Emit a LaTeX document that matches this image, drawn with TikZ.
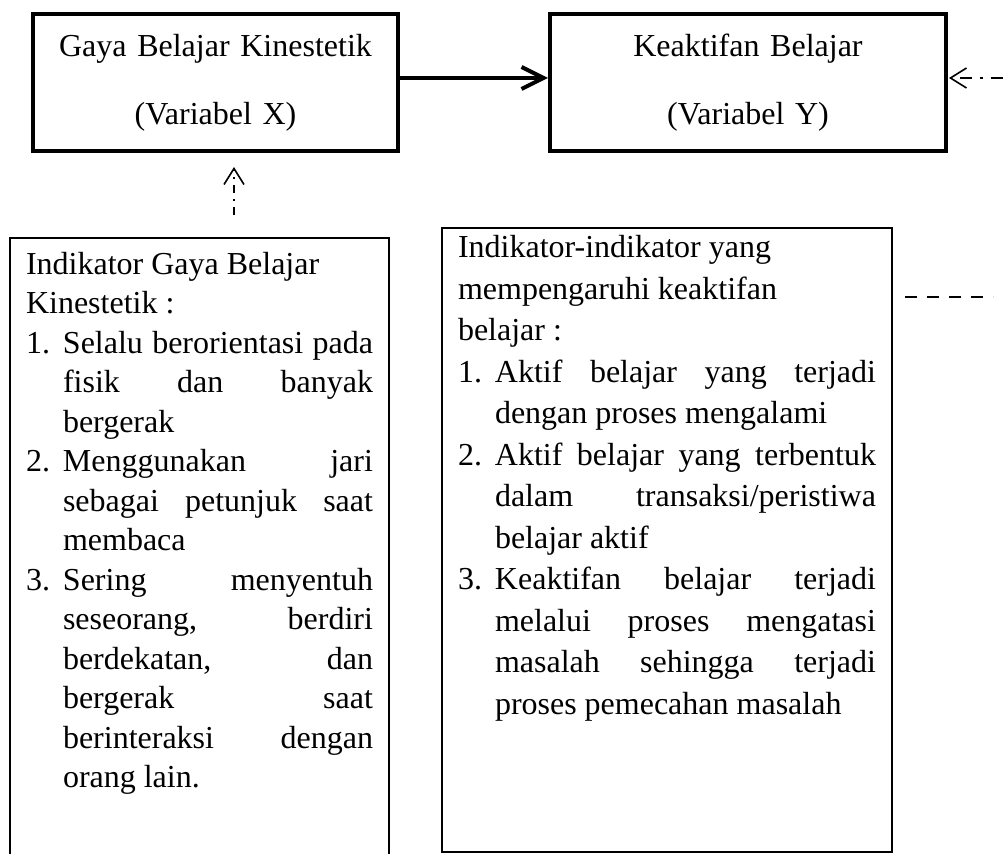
\documentclass[tikz,border=0pt]{standalone}
\usepackage{fontspec}
\setmainfont{Liberation Serif}
\usetikzlibrary{arrows.meta}

\newlength{\butirind}
\setlength{\butirind}{18.5pt}
\newcommand{\butir}[2]{\par\hangindent=\butirind\hangafter=1\noindent\makebox[\butirind][l]{#1}#2}

\begin{document}
\hyphenpenalty=10000
\tolerance=10000
\hbadness=10000
\begin{tikzpicture}[
    x=0.5pt, y=-0.5pt,
    varbox/.style={rectangle, draw, line width=2pt, minimum width=182.5pt, minimum height=68.5pt, text width=175pt, align=center, font=\fontsize{16pt}{34pt}\selectfont},
    indbox/.style={rectangle, draw, line width=1pt, anchor=north west, inner xsep=8pt, align=justify, font=\fontsize{16pt}{19.75pt}\selectfont},
    line/.style={draw, line width=2pt, line join=round, -{Straight Barb[length=11pt, width=11pt]}},
    dashdot/.style={draw, line width=0.8pt, dash pattern=on 6pt off 4pt on 1.5pt off 4pt, -{Straight Barb[length=8pt, width=10pt]}},
    dashline/.style={draw, line width=0.8pt, dash pattern=on 6pt off 5pt}
]
\clip (0,0) rectangle (1003,854);
\fill [white] (0,0) rectangle (1003,854);

\node [varbox] (varX) at (215.5,82.5) {Gaya Belajar Kinestetik\\(Variabel X)};
\node [varbox, minimum width=198pt] (varY) at (748,82.5) {Keaktifan Belajar\\(Variabel Y)};

\node [indbox, text width=173.5pt, inner ysep=7pt] (indX) at (9,237) {Indikator Gaya Belajar\hfil\break Kinestetik :
\butir{1.}{Selalu berorientasi pada\linebreak fisik dan banyak\linebreak bergerak}
\butir{2.}{Menggunakan jari\linebreak sebagai petunjuk saat\linebreak membaca}
\butir{3.}{Sering menyentuh\linebreak seseorang, berdiri\linebreak berdekatan, dan\linebreak bergerak saat\linebreak berinteraksi dengan\linebreak orang lain.}\par\kern60pt};

\node [indbox, text width=209pt, inner ysep=3.9pt, font=\fontsize{16pt}{20.75pt}\selectfont] (indY) at (441,227) {Indikator-indikator yang\hfil\break mempengaruhi keaktifan\hfil\break belajar :
\butir{1.}{Aktif belajar yang terjadi\linebreak dengan proses mengalami}
\butir{2.}{Aktif belajar yang terbentuk\linebreak dalam transaksi/peristiwa\linebreak belajar aktif}
\butir{3.}{Keaktifan belajar terjadi\linebreak melalui proses mengatasi\linebreak masalah sehingga terjadi\linebreak proses pemecahan masalah}\par\kern61.5pt};

\coordinate (rightedge) at (1003,78);
\coordinate (dashend) at (993,297);

\path [line] ([yshift=2.25pt]varX.east) -- ([yshift=2.25pt]varY.west);
\path [dashdot, shorten >=0.5pt] (rightedge) -- (rightedge -| varY.east);
\path [dashdot, dash pattern=on 4pt off 3pt on 1pt off 3pt, shorten <=11pt, shorten >=7pt] ([xshift=17.25pt]indX.north) -- ([xshift=17.25pt]indX.north |- varX.south);
\path [dashline, shorten <=6pt] (dashend -| indY.east) -- (dashend);

\end{tikzpicture}
\end{document}
